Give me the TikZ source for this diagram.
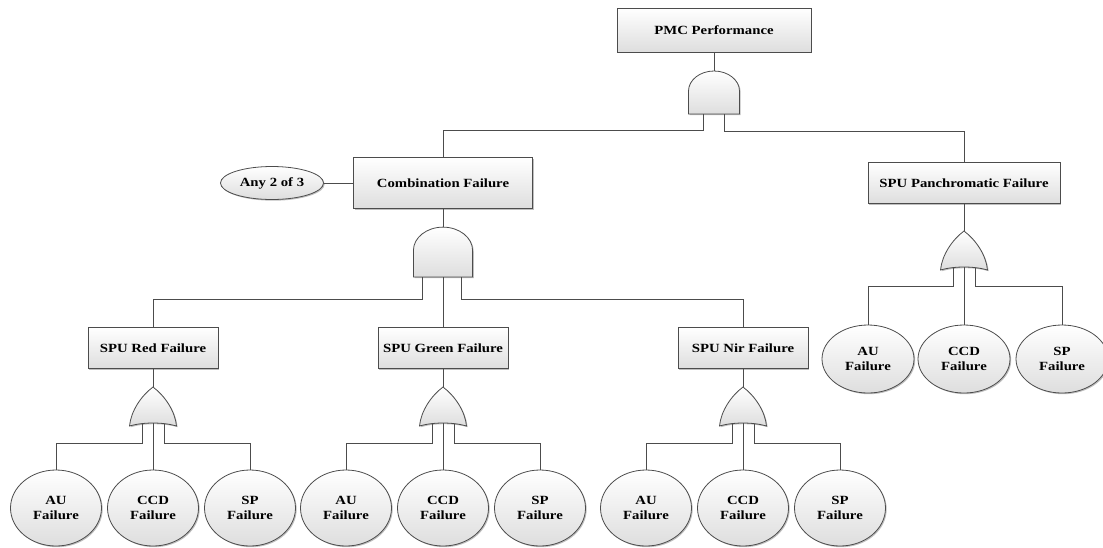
\documentclass[tikz,border=0pt]{standalone}
\usepackage{fontspec}
\setmainfont{Liberation Serif}[FakeStretch=1.18]
\usetikzlibrary{shapes.geometric,shadows}

\tikzset{
  line/.style={draw=black!70, line width=0.8pt},
  shade box/.style={top color=white, bottom color=black!13, draw=black!70, line width=0.8pt,
    drop shadow={shadow xshift=1.2pt, shadow yshift=-1.2pt, fill=black, opacity=0.25}},
  evtbox/.style={shade box, rectangle, inner sep=0pt,
    font=\bfseries\fontsize{12.5}{15}\selectfont},
  basicev/.style={shade box, ellipse, inner sep=0pt, align=center,
    minimum width=91pt, minimum height=76pt, font=\bfseries\fontsize{12.5}{15}\selectfont},
  andgate/.pic={
    \path[shade box] (-25.5,0) -- (-25.5,-23) .. controls (-25.5,-34) and (-14,-43) .. (0,-43)
      .. controls (14,-43) and (25.5,-34) .. (25.5,-23) -- (25.5,0) -- cycle;
    \coordinate (-top) at (0,-43);
    \coordinate (-b) at (0,0);
  },
  orgate/.pic={
    \path[shade box] (-23.5,0) .. controls (-22,-15) and (-12,-30) .. (0,-39)
      .. controls (12,-30) and (22,-15) .. (23.5,0)
      .. controls (10,-4) and (-10,-4) .. cycle;
    \coordinate (-top) at (0,-39);
    \coordinate (-l) at (-11,-2.5);
    \coordinate (-m) at (0,-3);
    \coordinate (-r) at (11,-2.5);
  }
}

\begin{document}
\begin{tikzpicture}[x=1pt, y=-1pt]
  \useasboundingbox (0,0) rectangle (1103,547);

  % top event
  \node[evtbox, minimum width=194pt, minimum height=44pt] (pmc) at (714,30) {PMC Performance};
  \pic (g1) at (714,114) {andgate};
  \draw[line] (pmc.south) -- (g1-top);

  % combination branch
  \node[evtbox, minimum width=179pt, minimum height=51pt] (comb) at (443,183) {Combination Failure};
  \node[basicev, minimum width=103pt, minimum height=33pt] (any) at (272,183) {Any 2 of 3};
  \draw[line] (any.east) -- (comb.west);
  \pic[scale=1.16] (g2) at (443,277) {andgate};
  \draw[line] (comb.south) -- (g2-top);

  % panchromatic branch
  \node[evtbox, minimum width=192pt, minimum height=41pt] (pan) at (964,183) {SPU Panchromatic Failure};
  \pic (opan) at (964,270) {orgate};
  \draw[line] (pan.south) -- (opan-top);

  \draw[line] ([xshift=-11pt]g1-b) -- ++(0,16) -| (comb.north);
  \draw[line] ([xshift=10pt]g1-b) -- ++(0,17) -| (pan.north);

  \node[basicev, minimum width=92pt, minimum height=68pt] (pan-au) at (868,359) {AU\\Failure};
  \node[basicev, minimum width=92pt, minimum height=68pt] (pan-ccd) at (964,359) {CCD\\Failure};
  \node[basicev, minimum width=92pt, minimum height=68pt] (pan-sp) at (1062,359) {SP\\Failure};
  \draw[line] (opan-l) -- ++(0,18.5) -| (pan-au.north);
  \draw[line] (opan-m) -- (pan-ccd.north);
  \draw[line] (opan-r) -- ++(0,18.5) -| (pan-sp.north);

  % the three spu bands
  \foreach \c/\n/\lab in {153/red/Red,443/green/Green,743/nir/Nir}
  {
    \node[evtbox, minimum width=130pt, minimum height=41pt] (\n) at (\c,348) {SPU \lab\ Failure};
    \pic (o\n) at (\c,426) {orgate};
    \draw[line] (\n.south) -- (o\n-top);
    \node[basicev] (\n-au) at (\c-97,508) {AU\\Failure};
    \node[basicev] (\n-ccd) at (\c,508) {CCD\\Failure};
    \node[basicev] (\n-sp) at (\c+97,508) {SP\\Failure};
    \draw[line] (o\n-l) -- ++(0,20) -| (\n-au.north);
    \draw[line] (o\n-m) -- (\n-ccd.north);
    \draw[line] (o\n-r) -- ++(0,20) -| (\n-sp.north);
  }

  \draw[line] ([xshift=-21pt]g2-b) -- ++(0,22) -| (red.north);
  \draw[line] (g2-b) -- (green.north);
  \draw[line] ([xshift=18pt]g2-b) -- ++(0,22) -| (nir.north);
\end{tikzpicture}
\end{document}
